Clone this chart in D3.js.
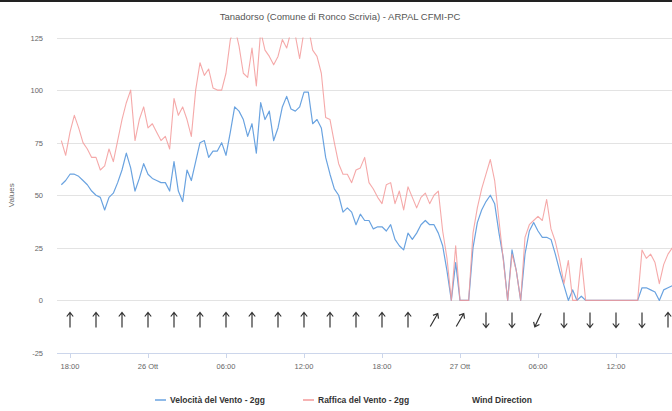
<!DOCTYPE html>
<html lang="it">
<head>
<meta charset="UTF-8">
<title>Tanadorso</title>
<style>
	body { margin: 0; background: #fff; }
	svg { display: block; font-family: "Liberation Sans", Arial, sans-serif; }
</style>
</head>
<body>
<script src="https://cdn.jsdelivr.net/npm/d3@7"></script>
<script>
// ---- data (20 min steps from 25 Oct 17:20) ----
var startTime = new Date(2023, 9, 25, 17, 20);
var stepMinutes = 20;

var velocita = [55,57,60,60,59,57,55,52,50,49,43,49,51,56,62,70,63,52,58,65,
	60,58,57,56,56,52,66,52,47,62,57,66,75,76,68,71,71,75,69,80,
	92,90,86,78,84,70,94,86,90,76,82,92,97,91,90,92,99,99,84,86,
	82,68,60,53,50,42,44,42,36,41,38,38,34,35,35,33,36,29,26,24,
	32,29,32,36,38,36,36,32,26,14,0,18,0,0,0,25,37,43,47,50,
	46,32,20,0,24,14,0,22,33,37,33,30,30,29,22,14,7,0,5,0,
	2,0,0,0,0,0,0,0,0,0,0,0,0,0,6,6,5,4,0,5,6,7];

var raffica = [76,69,80,88,82,75,72,68,68,62,64,72,66,76,86,94,100,76,86,92,
	82,84,80,76,78,72,96,88,92,86,78,100,113,107,110,101,100,100,108,124,
	130,121,108,106,120,102,128,119,116,112,116,124,120,128,126,115,128,130,119,116,
	108,87,86,75,65,60,60,56,62,63,68,56,53,49,46,55,56,46,52,43,
	54,49,44,49,51,46,50,52,33,20,0,26,0,0,0,32,44,53,60,67,
	57,38,19,0,22,14,0,30,36,38,40,38,48,34,28,19,8,19,0,0,
	20,0,0,0,0,0,0,0,0,0,0,0,0,0,24,20,22,18,8,17,22,25];

// wind direction (degrees, "from"), every 2 hours from 25 Oct 18:00
var windStart = new Date(2023, 9, 25, 18, 0);
var windDir = [180,180,180,180,180,180,180,180,180,180,180,180,180,180,
	210,210,0,0,25,0,0,0,0,180];

var yTicks = [-25, 0, 25, 50, 75, 100, 125];
var xTickLabels = ["18:00", "26 Ott", "06:00", "12:00", "18:00", "27 Ott", "06:00", "12:00"];

// ---- layout ----
var W = 672, H = 411;
var pL = 57, pR = 672, pT = 37.5, pB = 353;

var svg = d3.select('body').append('svg')
	.attr('width', W)
	.attr('height', H);

svg.append('rect').attr('x', 0).attr('y', 0).attr('width', W).attr('height', 2).attr('fill', '#222');

var t0 = new Date(2023, 9, 25, 17, 0);
var t1 = d3.timeSecond.offset(t0, Math.round((pR - pL) / 13 * 3600));

var x = d3.scaleTime().domain([t0, t1]).range([pL, pR]);
var y = d3.scaleLinear().domain([-25, 125]).range([pB, pT]);

// title
svg.append('text')
	.attr('x', 340).attr('y', 20)
	.attr('text-anchor', 'middle')
	.attr('font-size', '9.5px')
	.attr('fill', '#555')
	.text('Tanadorso (Comune di Ronco Scrivia) - ARPAL CFMI-PC');

// grid + y labels
svg.append('g')
	.selectAll('line')
	.data(yTicks)
	.enter().append('line')
	.attr('x1', pL).attr('x2', pR)
	.attr('y1', function (d) { return Math.round(y(d)) + 0.5; })
	.attr('y2', function (d) { return Math.round(y(d)) + 0.5; })
	.attr('stroke', function (d) { return d === -25 ? '#ccd6eb' : '#e3e3e3'; })
	.attr('stroke-width', 1);

svg.append('g')
	.selectAll('text')
	.data(yTicks)
	.enter().append('text')
	.attr('x', 43)
	.attr('y', function (d) { return y(d) + 3; })
	.attr('text-anchor', 'end')
	.attr('font-size', '7.5px')
	.attr('fill', '#666')
	.text(function (d) { return d; });

svg.append('text')
	.attr('transform', 'translate(14,' + ((pT + pB) / 2) + ') rotate(-90)')
	.attr('text-anchor', 'middle')
	.attr('font-size', '8px')
	.attr('fill', '#666')
	.text('Values');

// x axis ticks + labels
var xTicks = xTickLabels.map(function (d, i) {
	return d3.timeHour.offset(windStart, i * 6);
});
var xg = svg.append('g');
xg.selectAll('line')
	.data(xTicks)
	.enter().append('line')
	.attr('x1', function (d) { return Math.round(x(d)) + 0.5; })
	.attr('x2', function (d) { return Math.round(x(d)) + 0.5; })
	.attr('y1', pB).attr('y2', pB + 5)
	.attr('stroke', '#ccd6eb');
xg.selectAll('text')
	.data(xTicks)
	.enter().append('text')
	.attr('x', function (d) { return x(d); })
	.attr('y', 369)
	.attr('text-anchor', 'middle')
	.attr('font-size', '7.5px')
	.attr('fill', '#666')
	.text(function (d, i) { return xTickLabels[i]; });

// series
svg.append('clipPath').attr('id', 'plot')
	.append('rect')
	.attr('x', pL).attr('y', pT)
	.attr('width', pR - pL).attr('height', pB - pT);

function timeAt(i) { return d3.timeMinute.offset(startTime, i * stepMinutes); }

var line = d3.line()
	.x(function (d, i) { return x(timeAt(i)); })
	.y(function (d) { return y(d); });

var plot = svg.append('g').attr('clip-path', 'url(#plot)');

plot.append('path')
	.datum(velocita)
	.attr('d', line)
	.attr('fill', 'none')
	.attr('stroke', '#6aa3e0')
	.attr('stroke-width', 1.2)
	.attr('stroke-linejoin', 'round');

plot.append('path')
	.datum(raffica)
	.attr('d', line)
	.attr('fill', 'none')
	.attr('stroke', '#f39a9a')
	.attr('stroke-opacity', 0.85)
	.attr('stroke-width', 1.1)
	.attr('stroke-linejoin', 'round');

// wind arrows
svg.append('g')
	.selectAll('path')
	.data(windDir)
	.enter().append('path')
	.attr('transform', function (d, i) {
		var t = d3.timeHour.offset(windStart, i * 2);
		return 'translate(' + x(t) + ',320) rotate(' + (d + 180) + ')';
	})
	.attr('d', 'M0,7.5 L0,-7.5 M-3.2,-3.5 L0,-7.5 L3.2,-3.5')
	.attr('fill', 'none')
	.attr('stroke', '#333')
	.attr('stroke-width', 1.2);

// legend
var legend = [
	{ label: 'Velocità del Vento - 2gg', color: '#6aa3e0', x: 155 },
	{ label: 'Raffica del Vento - 2gg', color: '#f39a9a', x: 303 },
	{ label: 'Wind Direction', color: null, x: 457 }
];
var lg = svg.append('g').selectAll('g')
	.data(legend)
	.enter().append('g')
	.attr('transform', function (d) { return 'translate(' + d.x + ',403)'; });
lg.filter(function (d) { return d.color; })
	.append('line')
	.attr('x1', 0).attr('x2', 11)
	.attr('y1', -3).attr('y2', -3)
	.attr('stroke', function (d) { return d.color; })
	.attr('stroke-width', 1.5);
lg.append('text')
	.attr('x', 15).attr('y', 0)
	.attr('font-size', '8.5px')
	.attr('font-weight', 'bold')
	.attr('fill', '#333')
	.text(function (d) { return d.label; });
</script>
</body>
</html>
